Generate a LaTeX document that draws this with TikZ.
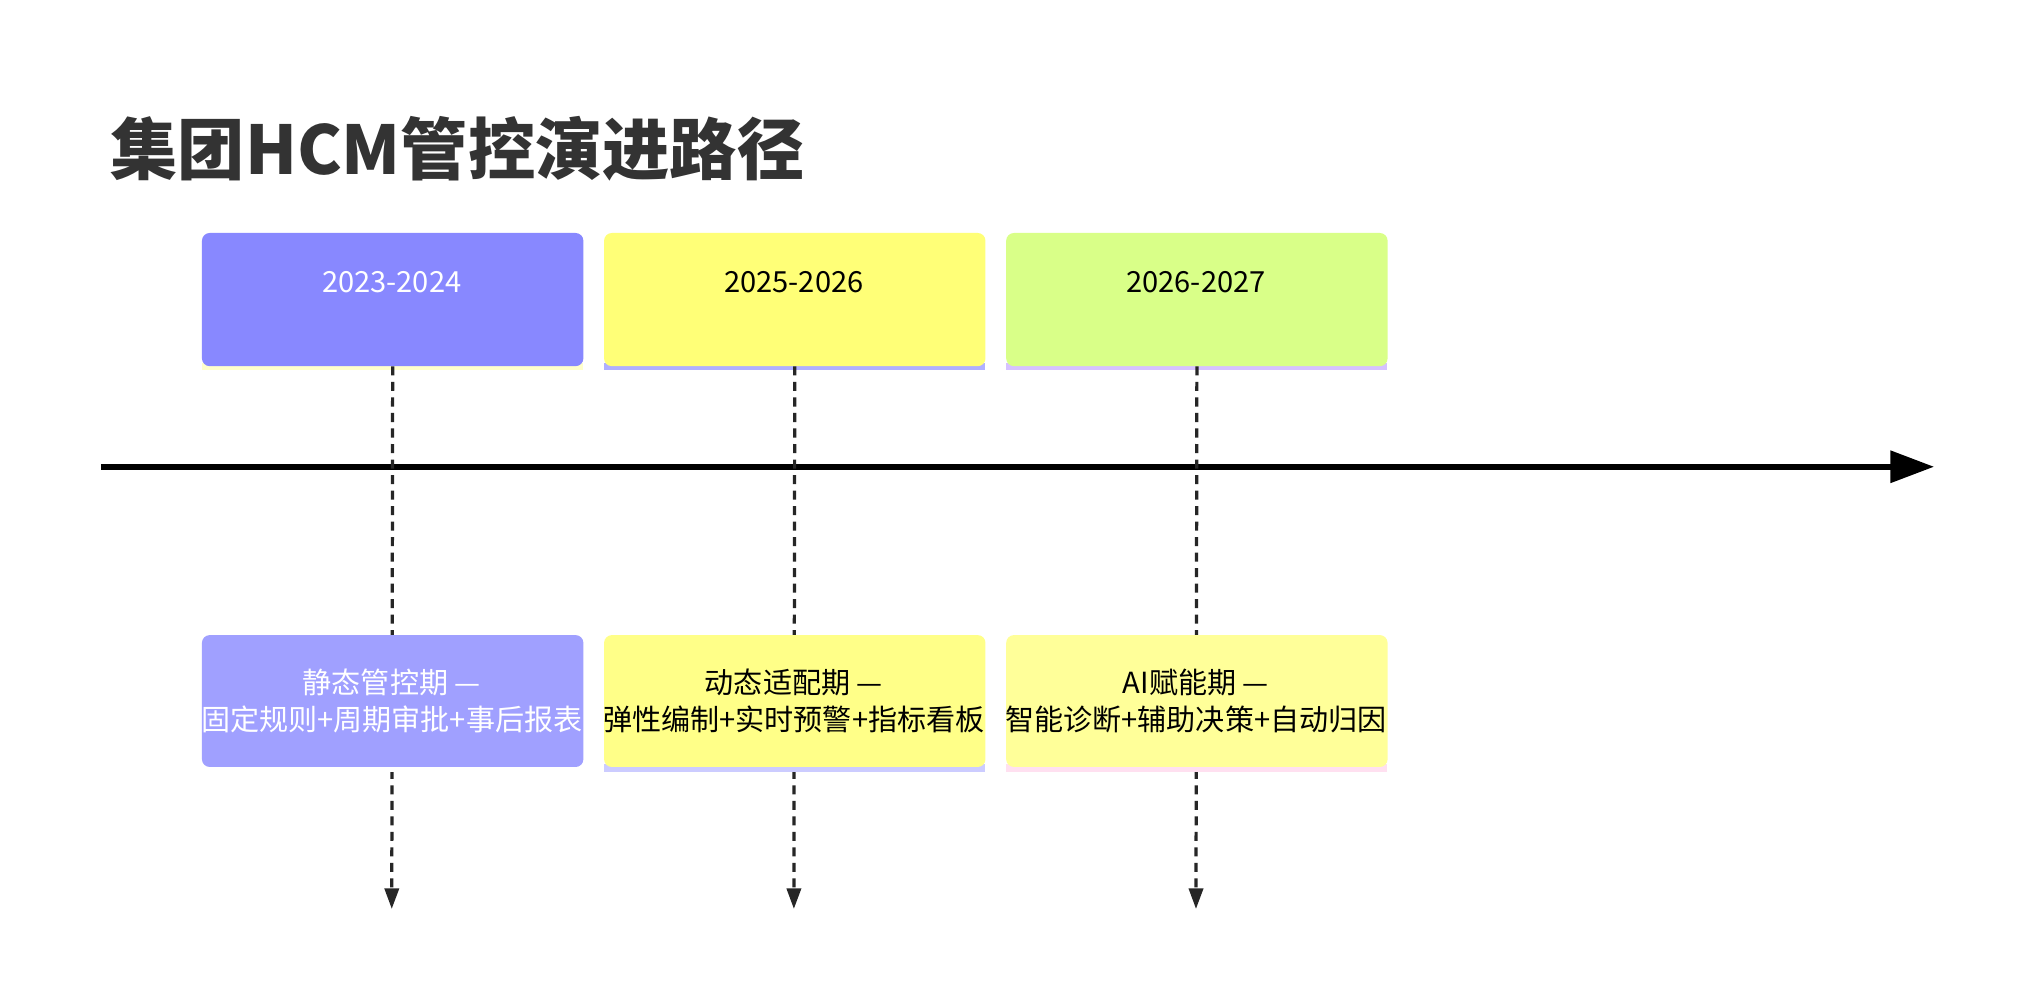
\documentclass[tikz,border=0pt]{standalone}
\usepackage{fontspec}
\setmainfont{Noto Sans CJK SC}
\usetikzlibrary{arrows.meta}
\definecolor{periodA}{HTML}{8888FF}
\definecolor{periodB}{HTML}{FFFF77}
\definecolor{periodC}{HTML}{D9FF88}
\definecolor{eventA}{HTML}{A0A0FF}
\definecolor{eventB}{HTML}{FFFF88}
\definecolor{eventC}{HTML}{FFFF99}
\definecolor{stripA}{HTML}{FFFFCC}
\definecolor{stripB}{HTML}{B0B0FF}
\definecolor{stripC}{HTML}{D6C2FF}
\definecolor{stripD}{HTML}{FFFFFF}
\definecolor{stripE}{HTML}{CCCCFF}
\definecolor{stripF}{HTML}{FFE0F0}
\tikzstyle{period}=[rounded corners=6pt, minimum width=295pt, minimum height=103pt, inner sep=0, anchor=north west]
\tikzstyle{event}=[rounded corners=6pt, minimum width=295pt, minimum height=102pt, inner sep=0, anchor=north west]
\tikzstyle{label}=[font=\fontsize{22.5}{29}\selectfont, align=center, inner sep=0]
\tikzstyle{drop}=[dash pattern=on 7pt off 5pt, line width=2.5pt, color=black!85, -{Triangle[length=16pt,width=11pt]}]
\begin{document}
\begin{tikzpicture}[x=1pt, y=-1pt]
        \useasboundingbox[fill=white] (0,0) rectangle (1560,773);
        \node[anchor=west, text=black!80, font=\fontsize{52}{56}\selectfont\bfseries] (title) at (82,115) {集团HCM管控演进路径};
        % periods
        \fill[stripA] (156,281) rectangle (451,286);
        \fill[stripB] (467,281) rectangle (762,286);
        \fill[stripC] (778,281) rectangle (1073,286);
        \node[period, fill=periodA] (P1) at (156,180) {};
        \node[period, fill=periodB] (P2) at (467,180) {};
        \node[period, fill=periodC] (P3) at (778,180) {};
        \node[label, text=white] at (303,218) {2023-2024};
        \node[label] at (614,218) {2025-2026};
        \node[label] at (925,218) {2026-2027};
        % axis
        \coordinate (T0) at (78,361);
        \coordinate (T1) at (1496,361);
        \draw[line width=5pt, -{Triangle[length=34pt,width=24pt]}] (T0) -- (T1);
        % events
        \coordinate (E1) at (303,703);
        \coordinate (E2) at (614,703);
        \coordinate (E3) at (925,703);
        \draw[drop] (P1.south) -- (E1);
        \draw[drop] (P2.south) -- (E2);
        \draw[drop] (P3.south) -- (E3);
        \fill[stripD] (156,591) rectangle (451,597);
        \fill[stripE] (467,591) rectangle (762,597);
        \fill[stripF] (778,591) rectangle (1073,597);
        \node[event, fill=eventA] (V1) at (156,491) {};
        \node[event, fill=eventB] (V2) at (467,491) {};
        \node[event, fill=eventC] (V3) at (778,491) {};
        \node[label, text=white] at (303,542) {静态管控期 —\\固定规则+周期审批+事后报表};
        \node[label] at (614,542) {动态适配期 —\\弹性编制+实时预警+指标看板};
        \node[label] at (925,542) {AI赋能期 —\\智能诊断+辅助决策+自动归因};
    \end{tikzpicture}
\end{document}
